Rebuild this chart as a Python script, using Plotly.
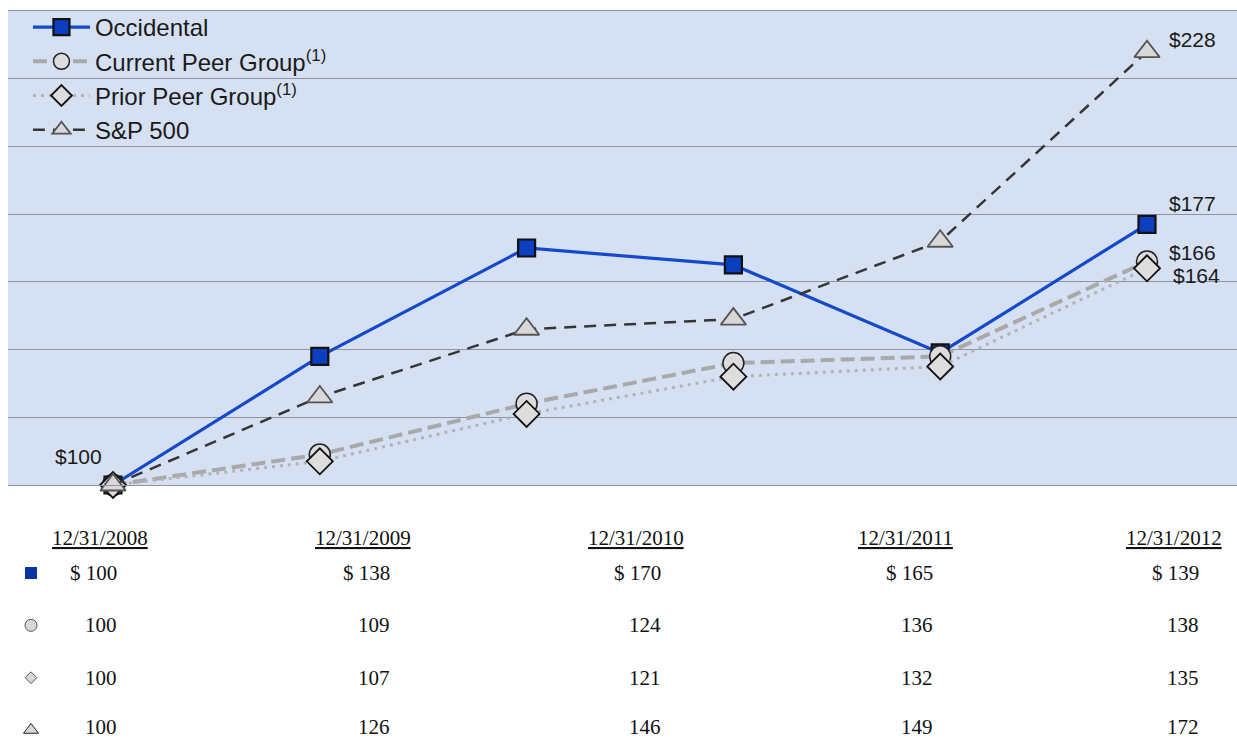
import plotly.graph_objects as go

# ---------------- data ----------------
series_names = ["Occidental", "Current Peer Group", "Prior Peer Group", "S&P 500"]
legend_labels = ["Occidental", "Current Peer Group<sup>(1)</sup>",
                 "Prior Peer Group<sup>(1)</sup>", "S&P 500"]
occidental = [100, 138, 170, 165, 139, 177]
current_peer = [100, 109, 124, 136, 138, 166]
prior_peer = [100, 107, 121, 132, 135, 164]
sp500 = [100, 126, 146, 149, 172, 228]
points = [0, 1, 2, 3, 4, 5]

table_dates = ["12/31/2008", "12/31/2009", "12/31/2010", "12/31/2011", "12/31/2012"]
table_occidental = [100, 138, 170, 165, 139]
table_current = [100, 109, 124, 136, 138]
table_prior = [100, 107, 121, 132, 135]
table_sp500 = [100, 126, 146, 149, 172]

# ---------------- styles ----------------
W, H = 1237, 740
BG = "#d5e1f2"
GRID = "#8e96a3"
BLUE = "#1449cc"

styles = [
    dict(line=dict(color=BLUE, width=3.2),
         marker=dict(symbol="square", size=17, color="#0b3fc0", line=dict(color="#111", width=2.2))),
    dict(line=dict(color="#a9a9a9", width=4, dash="14px,6px"),
         marker=dict(symbol="circle", size=21, color="#dcdcdc", line=dict(color="#222", width=1.5))),
    dict(line=dict(color="#b3b3b3", width=3, dash="3px,5px"),
         marker=dict(symbol="diamond", size=20, color="#dddddd", line=dict(color="#111", width=1.8))),
    dict(line=dict(color="#353535", width=2.5, dash="12px,8px"),
         marker=dict(symbol="triangle-up", size=22, color="#d8d8d8", line=dict(color="#555", width=1.8))),
]
all_series = [occidental, current_peer, prior_peer, sp500]

fig = go.Figure()
for i, (name, vals) in enumerate(zip(legend_labels, all_series)):
    fig.add_trace(go.Scatter(
        x=points, y=vals, mode="lines+markers", name=name,
        line=styles[i]["line"], marker=styles[i]["marker"],
        cliponaxis=False,
    ))

# table markers (hidden second axes)
table_symbols = [
    dict(symbol="square", size=12, color="#0a35a5", line=dict(color="#0a35a5", width=0)),
    dict(symbol="circle", size=12, color="#d8d8d8", line=dict(color="#555", width=1)),
    dict(symbol="diamond", size=9, color="#d8d8d8", line=dict(color="#555", width=1)),
    dict(symbol="triangle-up", size=13, color="#d8d8d8", line=dict(color="#222", width=1)),
]
TABLE_MARKER_X = 31 / W
for i, name in enumerate(series_names):
    fig.add_trace(go.Scatter(
        x=[TABLE_MARKER_X], y=[name], mode="markers", marker=table_symbols[i],
        xaxis="x2", yaxis="y2", showlegend=False, cliponaxis=False, hoverinfo="skip",
    ))

# ---------------- layout ----------------
x_left_px, x_right_px = 8, W
y_top_px, y_bot_px = 11, 485
first_px, step_px = 113, 206.8
x_range = [-(first_px - x_left_px) / step_px, 5 + (x_right_px - (first_px + 5 * step_px)) / step_px]

fig.update_layout(
    width=W, height=H, margin=dict(l=0, r=0, t=0, b=0),
    paper_bgcolor="white", plot_bgcolor="rgba(0,0,0,0)",
    font=dict(family="Liberation Sans, Arial", color="#1a1a1a"),
    xaxis=dict(domain=[x_left_px / W, 1], range=x_range, showgrid=False, zeroline=False,
               showticklabels=False, showline=True, mirror=True, linecolor=GRID, linewidth=1),
    yaxis=dict(domain=[1 - y_bot_px / H, 1 - y_top_px / H], range=[100, 240],
               tick0=100, dtick=20, showgrid=True, gridcolor=GRID, gridwidth=1,
               zeroline=False, showticklabels=False, showline=False),
    xaxis2=dict(domain=[0, 1], range=[0, 1], visible=False, anchor="y2"),
    yaxis2=dict(domain=[0, 1 - 520 / H], range=[3 + 10 / 52.33, -(573 - 520) / 52.33],
                type="category", categoryorder="array", categoryarray=series_names,
                visible=False, anchor="x2"),
    legend=dict(x=0.0226, y=1 - 5 / H, xanchor="left", yanchor="top",
                bgcolor="rgba(0,0,0,0)", font=dict(size=24, color="#1a1a1a", family="Liberation Sans, Arial"),
                itemwidth=57, tracegroupgap=0),
    showlegend=True,
    shapes=[dict(type="rect", xref="x domain", yref="y domain", x0=0, x1=1, y0=0, y1=1,
                 fillcolor=BG, line=dict(width=0), layer="below")],
)

# end-value annotations
ann_font = dict(family="Liberation Sans, Arial", size=21, color="#1a1a1a")
fig.add_annotation(x=points[0], y=occidental[0], text=f"${occidental[0]}", showarrow=False,
                   xanchor="center", yanchor="middle", xshift=-35, yshift=28, font=ann_font)
end_labels = [(occidental[-1], 0, 21), (current_peer[-1], 0, 9), (prior_peer[-1], 4, -7), (sp500[-1], 0, 12)]
for val, xs, ys in end_labels:
    fig.add_annotation(x=points[-1], y=val, text=f"${val}", showarrow=False,
                       xanchor="left", yanchor="middle", xshift=20 + xs, yshift=ys, font=ann_font)

# table
tab_font = dict(family="Liberation Serif, Times New Roman", size=21, color="#111")
header_centers = [100, 363, 636, 906, 1174]
right_edges = [118, 391, 662, 934, 1200]
for c, d in enumerate(table_dates):
    fig.add_annotation(xref="paper", yref="paper", x=header_centers[c] / W, y=1 - 538 / H,
                       text=f"<u>{d}</u>", showarrow=False, xanchor="center", yanchor="middle",
                       font=tab_font)
table_rows = [table_occidental, table_current, table_prior, table_sp500]
for r, (name, row) in enumerate(zip(series_names, table_rows)):
    for c, v in enumerate(row):
        txt = f"$ {v}" if r == 0 else f"{v}"
        fig.add_annotation(xref="paper", yref="y2", x=right_edges[c] / W, y=name,
                           text=txt, showarrow=False, xanchor="right", yanchor="middle",
                           font=tab_font, borderpad=0, yshift=3 if r == 3 else 0)

fig.write_html("out.html")
